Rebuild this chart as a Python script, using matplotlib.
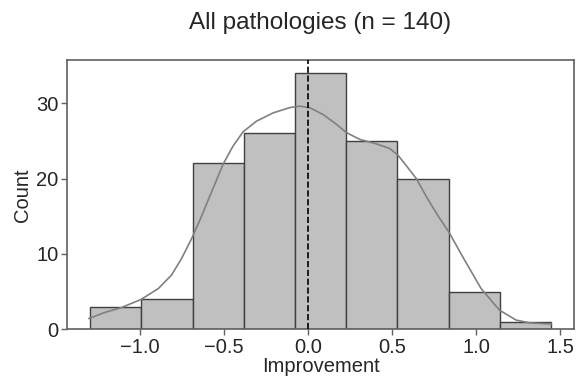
import matplotlib
matplotlib.use("Agg")
import matplotlib.pyplot as plt

plt.rcParams['font.family'] = ['Liberation Sans', 'DejaVu Sans']

# Histogram data
bin_edges = [-1.297, -0.992, -0.687, -0.383, -0.078, 0.227, 0.532, 0.836, 1.141, 1.446]
counts = [3, 4, 22, 26, 34, 25, 20, 5, 1]

# KDE curve (x, count-scaled density)
kde_x = [-1.303, -1.208, -1.109, -0.994, -0.891, -0.812, -0.752, -0.693, -0.633,
         -0.604, -0.505, -0.446, -0.386, -0.307, -0.208, -0.109, -0.049, 0.010,
         0.089, 0.169, 0.228, 0.307, 0.406, 0.485, 0.535, 0.585, 0.644, 0.704,
         0.772, 0.838, 0.921, 1.030, 1.139, 1.238, 1.317, 1.446]
kde_y = [1.45, 2.25, 2.9, 3.96, 5.4, 7.2, 9.4, 12.0, 15.0,
         16.6, 21.9, 24.3, 26.2, 27.6, 28.7, 29.4, 29.6, 29.4,
         28.5, 27.2, 26.1, 25.2, 24.6, 24.0, 23.1, 21.7, 20.0, 17.6,
         15.1, 12.9, 9.6, 5.4, 2.55, 1.23, 0.87, 0.70]

title = "All pathologies (n = 140)"
xlabel = "Improvement"
ylabel = "Count"
ref_line = 0.0
xticks = [-1.0, -0.5, 0.0, 0.5, 1.0, 1.5]
yticks = [0, 10, 20, 30]

fig = plt.figure(figsize=(5.77, 3.83), dpi=100)
ax = fig.add_axes([0.116, 0.14, 0.879, 0.703])

ax.hist(bin_edges[:-1], bins=bin_edges, weights=counts, color='#c0c0c0',
        edgecolor='#404040', linewidth=1.0, zorder=2)
ax.plot(kde_x, kde_y, color='#808080', linewidth=1.2, zorder=3)
ax.axvline(ref_line, color='black', linestyle='--', linewidth=1.2, zorder=4)

ax.set_xlim(-1.434, 1.583)
ax.set_ylim(0, 35.7)
ax.set_xticks(xticks)
ax.set_xticklabels([f"{t:.1f}".replace('-', '\u2212') for t in xticks])
ax.set_yticks(yticks)

for s in ax.spines.values():
    s.set_color('#606060')
    s.set_linewidth(1.2)
ax.tick_params(axis='both', direction='out', length=4, width=1.0,
               color='#606060', labelsize=14.5, labelcolor='#262626', pad=2)

ax.set_xlabel(xlabel, fontsize=14.5, color='#262626', labelpad=0)
ax.set_ylabel(ylabel, fontsize=14.5, color='#262626', labelpad=3)
fig.suptitle(title, fontsize=17.5, color='#262626', x=0.555, y=0.968)

fig.savefig("out.png", dpi=100)
